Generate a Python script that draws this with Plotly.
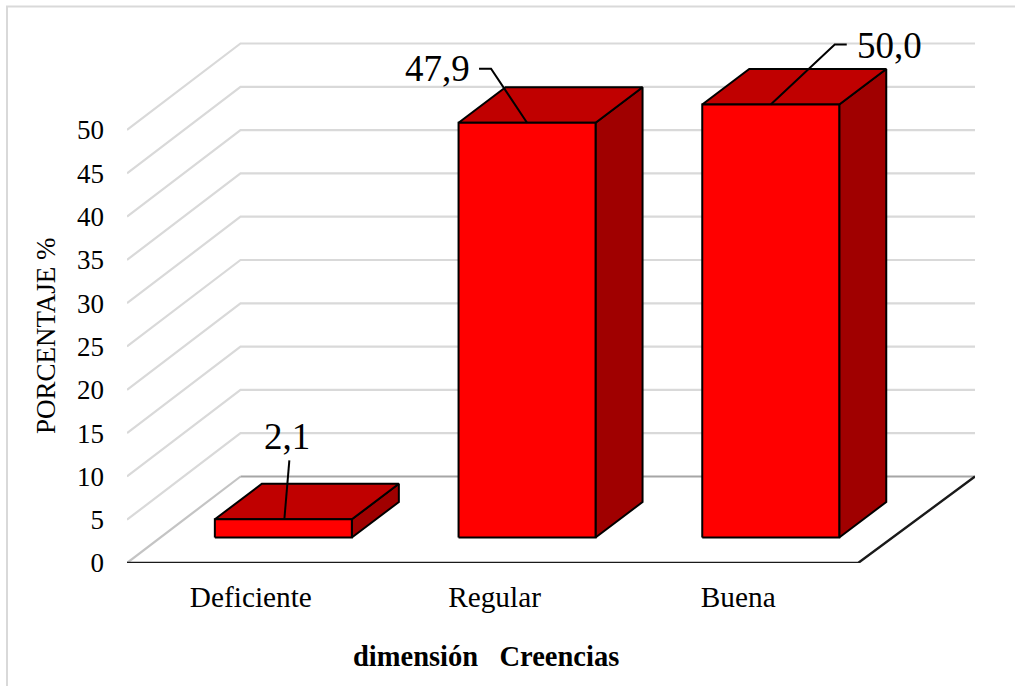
import plotly.graph_objects as go

categories = ["Deficiente", "Regular", "Buena"]
values = [2.1, 47.9, 50.0]
value_labels = ["2,1", "47,9", "50,0"]
y_ticks = [0, 5, 10, 15, 20, 25, 30, 35, 40, 45, 50]

# layout in pixels
W, H = 1015, 686
LEFT, RIGHT_EDGE, ZERO_Y = 127.0, 975.0, 563.0
UX = 243.7   # px per category
UY = 8.66    # px per value unit
TOP_Y = 30.0
px = lambda d: d / UX
py = lambda d: d / UY

XMIN = -0.5
XMAX = XMIN + px(RIGHT_EDGE - LEFT)
YMAX = py(ZERO_Y - TOP_Y)
WALL_DX, WALL_DY = px(113.5), py(86.5)
GAP_DX, GAP_DY = px(34.5), py(25.5)
BAR_DX, BAR_DY = px(47.0), py(35.5)
BAR_W = px(137.0)

GRID = "#D9D9D9"
FLOOR = "#A6A6A6"
AXIS = "#1A1A1A"
FRONT, TOP, SIDE = "#FF0000", "#C00000", "#A00000"
FONT = "Liberation Serif"

fig = go.Figure()


def line(xs, ys, color, width):
    fig.add_trace(go.Scatter(x=xs, y=ys, mode="lines", hoverinfo="skip", showlegend=False,
                             cliponaxis=False, line=dict(color=color, width=width)))


def poly(xs, ys, fill):
    fig.add_trace(go.Scatter(x=xs + xs[:1], y=ys + ys[:1], mode="lines", fill="toself",
                             fillcolor=fill, hoverinfo="skip", showlegend=False, cliponaxis=False,
                             line=dict(color="#000000", width=2)))


# walls
for v in y_ticks[1:]:
    line([XMIN, XMIN + WALL_DX, XMAX], [v, v + WALL_DY, v + WALL_DY], GRID, 2.2)
# floor
line([XMIN, XMIN + WALL_DX], [0, WALL_DY], "#C4C4C4", 2.2)
line([XMIN + WALL_DX, XMAX], [WALL_DY, WALL_DY], FLOOR, 2.2)
line([XMIN, 2.5, XMAX], [0, 0, WALL_DY], AXIS, 2.4)

# bars
for i, v in enumerate(values):
    x0 = i - BAR_W / 2 + GAP_DX
    x1 = x0 + BAR_W
    y0 = GAP_DY
    y1 = GAP_DY + v
    poly([x1, x1 + BAR_DX, x1 + BAR_DX, x1], [y0, y0 + BAR_DY, y1 + BAR_DY, y1], SIDE)
    poly([x0, x0 + BAR_DX, x1 + BAR_DX, x1], [y1, y1 + BAR_DY, y1 + BAR_DY, y1], TOP)
    poly([x0, x1, x1, x0], [y0, y0, y1, y1], FRONT)

# leader lines: pixel offsets from the middle of each bar's top front edge
leaders = [[(1, 0), (6, 59)], [(0, 0), (-36, 54), (-48, 54)], [(0, 0), (64, 60), (76, 60)]]
label_shift = [(4, 83), (-90, 54), (119, 59)]
annotations = []
for i, v in enumerate(values):
    bx = i + GAP_DX
    by = GAP_DY + v
    line([bx + px(a) for a, _ in leaders[i]], [by + py(b) for _, b in leaders[i]], "#000000", 2)
    annotations.append(dict(x=bx, y=by, xref="x", yref="y", text=value_labels[i], showarrow=False,
                            xshift=label_shift[i][0], yshift=label_shift[i][1],
                            font=dict(family=FONT, size=37, color="#000000")))

plot_w = RIGHT_EDGE - LEFT
plot_h = ZERO_Y - TOP_Y
to_px = lambda x: (x - LEFT) / plot_w
to_py = lambda y: (ZERO_Y - y) / plot_h

annotations.append(dict(x=to_px(485.5), y=to_py(656), xref="paper", yref="paper", showarrow=False,
                        xanchor="center", yanchor="middle",
                        text="<b>dimensión   Creencias</b>",
                        font=dict(family=FONT, size=28.5, color="#000000")))
annotations.append(dict(x=to_px(46), y=to_py(336), xref="paper", yref="paper", showarrow=False,
                        xanchor="center", yanchor="middle",
                        text="PORCENTAJE %", textangle=-90,
                        font=dict(family=FONT, size=27, color="#000000")))

fig.update_layout(
    width=W, height=H, autosize=False,
    margin=dict(l=LEFT, r=W - RIGHT_EDGE, t=TOP_Y, b=H - ZERO_Y, pad=0, autoexpand=False),
    paper_bgcolor="white", plot_bgcolor="white", showlegend=False,
    annotations=annotations,
    shapes=[dict(type="rect", xref="paper", yref="paper", x0=to_px(7), x1=to_px(1100),
                 y0=to_py(800), y1=to_py(6.5), line=dict(color=GRID, width=2), layer="below")],
    xaxis=dict(range=[XMIN, XMAX], tickvals=list(range(len(categories))), ticktext=categories,
               showgrid=False, zeroline=False, showline=False, ticks="",
               ticklabelstandoff=14, ticklabelshift=2,
               tickfont=dict(family=FONT, size=29.3, color="#000000")),
    yaxis=dict(range=[0, YMAX], tickvals=y_ticks, showgrid=False, zeroline=False, showline=False,
               ticks="", ticklabelstandoff=22,
               tickfont=dict(family=FONT, size=27, color="#000000")),
)

fig.write_html("out.html", post_script="document.body.style.margin='0';",
               config={"displayModeBar": False})
